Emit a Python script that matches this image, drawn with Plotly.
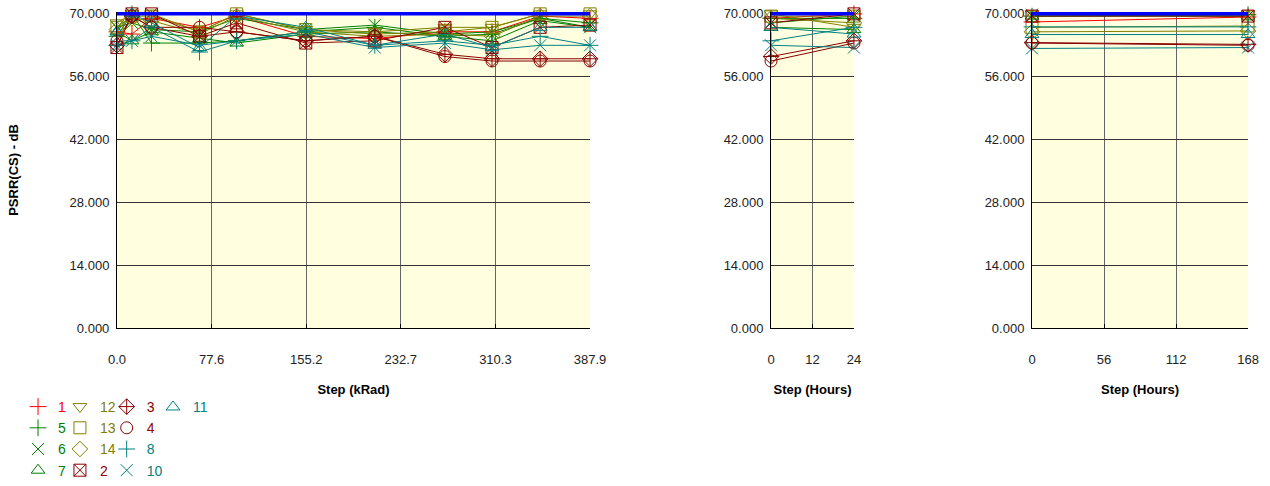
import plotly.graph_objects as go

# ---------------- data ----------------
KRAD = [0.0, 12.3, 28.3, 67.7, 98.1, 154.8, 211.4, 268.9, 307.5, 347.0, 387.9]
HOURS_24 = [0, 24]
HOURS_168 = [0, 168]

KRAD_TICKS = [0.0, 77.6, 155.2, 232.7, 310.3, 387.9]
H24_TICKS = [0, 12, 24]
H168_TICKS = [0, 56, 112, 168]
Y_TICKS = [0, 14, 28, 42, 56, 70]
LIMIT = 70.0

SERIES = ["1", "5", "6", "7", "12", "13", "14", "2", "3", "4", "8", "10", "11"]

VALS_KRAD = {
    "1":  [66.0, 65.5, 69.0, 67.0, 69.5, 65.0, 64.5, 66.0, 66.0, 69.5, 69.0],
    "5":  [65.0, 70.0, 63.5, 63.5, 64.0, 66.0, 67.0, 65.0, 65.5, 69.0, 68.0],
    "6":  [67.0, 68.0, 66.5, 66.0, 69.0, 66.5, 67.5, 65.5, 66.0, 69.0, 67.0],
    "7":  [66.0, 64.0, 66.0, 64.5, 63.5, 65.5, 66.0, 65.0, 64.0, 68.5, 67.0],
    "12": [68.0, 70.0, 70.0, 66.0, 70.0, 66.5, 66.0, 67.0, 67.0, 70.0, 70.0],
    "13": [67.0, 69.5, 69.5, 66.0, 70.0, 66.5, 65.5, 66.0, 67.0, 70.0, 70.0],
    "14": [66.5, 69.0, 68.5, 65.5, 69.5, 66.0, 65.0, 65.5, 65.0, 69.5, 69.5],
    "2":  [62.5, 70.0, 70.0, 65.0, 68.0, 63.5, 64.0, 67.0, 62.5, 67.0, 67.5],
    "3":  [63.0, 69.5, 67.0, 65.0, 66.0, 64.0, 65.0, 61.0, 60.0, 60.0, 60.0],
    "4":  [64.0, 69.5, 67.0, 67.0, 66.0, 64.0, 65.0, 60.5, 59.5, 59.5, 59.5],
    "8":  [63.0, 64.0, 67.0, 61.5, 64.0, 66.0, 63.0, 64.0, 63.0, 65.0, 63.0],
    "10": [63.0, 64.0, 65.0, 63.0, 64.0, 65.5, 62.5, 63.5, 62.0, 63.0, 63.0],
    "11": [66.0, 70.0, 68.0, 62.5, 69.5, 67.0, 63.0, 65.5, 62.5, 67.0, 67.0],
}

VALS_24H = {
    "1":  [69.0, 70.0],
    "5":  [69.0, 69.0],
    "6":  [68.0, 69.5],
    "7":  [67.0, 66.5],
    "12": [70.0, 67.0],
    "13": [69.5, 69.5],
    "14": [69.0, 68.0],
    "2":  [68.0, 70.0],
    "3":  [60.5, 64.0],
    "4":  [59.5, 63.5],
    "8":  [64.0, 67.0],
    "10": [63.0, 62.5],
    "11": [67.0, 65.5],
}

VALS_168H = {
    "1":  [68.2, 69.3],
    "5":  [69.5, 69.8],
    "6":  [69.8, 69.5],
    "7":  [69.5, 69.5],
    "12": [70.0, 70.0],
    "13": [67.0, 67.3],
    "14": [66.0, 66.2],
    "2":  [69.5, 69.5],
    "3":  [63.6, 63.2],
    "4":  [63.5, 63.0],
    "8":  [67.1, 67.1],
    "10": [62.3, 62.5],
    "11": [65.4, 65.4],
}

# ---------------- styles ----------------
RED, GREEN, OLIVE, DRED, TEAL = "#FF0000", "#008000", "#808000", "#8B0000", "#008080"
STYLE = {
    "1": (RED, "cross-thin-open"),
    "5": (GREEN, "cross-thin-open"),
    "6": (GREEN, "x-thin-open"),
    "7": (GREEN, "triangle-up-open"),
    "12": (OLIVE, "triangle-down-open"),
    "13": (OLIVE, "square-open"),
    "14": (OLIVE, "diamond-open"),
    "2": (DRED, "square-x-open"),
    "3": (DRED, "diamond-cross-open"),
    "4": (DRED, "circle-open"),
    "8": (TEAL, "cross-thin-open"),
    "10": (TEAL, "x-thin-open"),
    "11": (TEAL, "triangle-up-open"),
}
LEGEND_COL = {"1": "legend", "5": "legend", "6": "legend", "7": "legend",
              "12": "legend2", "13": "legend2", "14": "legend2", "2": "legend2",
              "3": "legend3", "4": "legend3", "8": "legend3", "10": "legend3",
              "11": "legend4"}

FONT = "Liberation Sans, Arial, sans-serif"
MSIZE = 12

fig = go.Figure()

panels = [("x", "y", KRAD, VALS_KRAD), ("x2", "y2", HOURS_24, VALS_24H), ("x3", "y3", HOURS_168, VALS_168H)]

for pi, (xa, ya, xs, vals) in enumerate(panels):
    for s in SERIES:
        col, sym = STYLE[s]
        fig.add_trace(go.Scatter(
            x=xs, y=vals[s], xaxis=xa, yaxis=ya, mode="lines",
            line=dict(color=col, width=1), showlegend=False, hoverinfo="skip",
            cliponaxis=False))
    for s in SERIES:
        col, sym = STYLE[s]
        fig.add_trace(go.Scatter(
            x=xs, y=vals[s], xaxis=xa, yaxis=ya, mode="markers",
            marker=dict(symbol=sym, size=MSIZE, color=col, line=dict(color=col, width=1)),
            name=f'<span style="color:{col}">{s}</span>',
            showlegend=(pi == 0), legend=LEGEND_COL[s], cliponaxis=False))
    # spec limit line
    fig.add_trace(go.Scatter(
        x=[min(xs), max(xs)], y=[LIMIT, LIMIT], xaxis=xa, yaxis=ya, mode="lines",
        line=dict(color="#0000FF", width=3.5), showlegend=False, hoverinfo="skip",
        cliponaxis=False))

YDOM = [0.3189, 0.9759]
YRANGE = [0, 70.5]
common_x = dict(showgrid=True, gridcolor="#666666", gridwidth=1, showline=True,
                linecolor="#000000", linewidth=1, zeroline=False, ticks="inside",
                ticklen=4, tickcolor="#000000", ticklabelstandoff=19, automargin=False,
                tickfont=dict(family=FONT, size=13, color="#222222"),
                title_font=dict(family=FONT, size=13, color="#000000", weight="bold"),
                title_standoff=19, fixedrange=True)
common_y = dict(range=YRANGE, tickvals=Y_TICKS, tickformat=".3f", showgrid=True,
                gridcolor="#333333", gridwidth=1, showline=True, linecolor="#000000",
                linewidth=1, zeroline=False, ticks="", ticklabelstandoff=4, automargin=False,
                tickfont=dict(family=FONT, size=13, color="#222222"), domain=YDOM,
                fixedrange=True)

fig.update_layout(
    width=1270, height=486, autosize=False,
    margin=dict(l=0, r=0, t=0, b=0),
    paper_bgcolor="white", plot_bgcolor="#FFFFE0",
    font=dict(family=FONT, size=13, color="#222222"),
    xaxis=dict(common_x, domain=[0.0921, 0.4646], range=[0, 387.9], tickvals=KRAD_TICKS,
               ticktext=[f"{v:.1f}" for v in KRAD_TICKS], anchor="y",
               title_text="Step (kRad)"),
    xaxis2=dict(common_x, domain=[0.6071, 0.6724], range=[0, 24], tickvals=H24_TICKS,
                anchor="y2", title_text="Step (Hours)"),
    xaxis3=dict(common_x, domain=[0.8126, 0.9827], range=[0, 168], tickvals=H168_TICKS,
                anchor="y3", title_text="Step (Hours)"),
    yaxis=dict(common_y, anchor="x", title_text="PSRR(CS) - dB",
               title_font=dict(family=FONT, size=13, color="#000000", weight="bold"),
               title_standoff=48),
    yaxis2=dict(common_y, anchor="x2"),
    yaxis3=dict(common_y, anchor="x3"),
)

leg_common = dict(yref="paper", xref="paper", y=0.188, yanchor="top", xanchor="left",
                  bgcolor="rgba(0,0,0,0)", borderwidth=0, tracegroupgap=0,
                  font=dict(family=FONT, size=14), orientation="v")
fig.update_layout(
    legend=dict(leg_common, x=0.0142),
    legend2=dict(leg_common, x=0.0472),
    legend3=dict(leg_common, x=0.0840),
    legend4=dict(leg_common, x=0.1205),
)

fig.write_html("out.html", config={"displayModeBar": False},
               post_script="document.body.style.margin='0px';")
